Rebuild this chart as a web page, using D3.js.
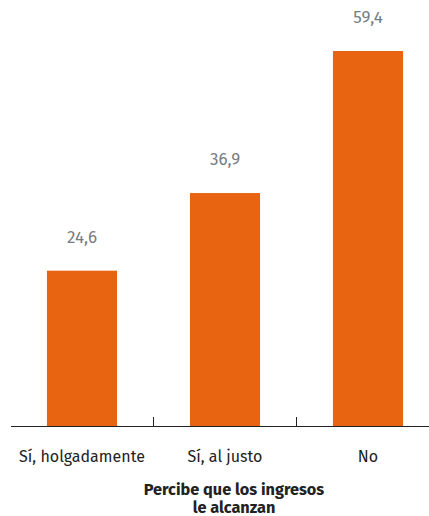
<!DOCTYPE html>
<html><head><meta charset="utf-8">
<script src="https://cdn.jsdelivr.net/npm/d3@7"></script>
<style>body{margin:0;background:#fff}svg{display:block}text{font-family:"Fira Sans","Noto Sans",sans-serif}</style>
</head><body>
<svg id="c" width="429" height="516"></svg>
<script>
const categories = ["Sí, holgadamente", "Sí, al justo", "No"];
const values = [24.6, 36.9, 59.4];
const labels = ["24,6", "36,9", "59,4"];
const titleLines = ["Percibe que los ingresos", "le alcanzan"];

const svg = d3.select("#c");
const base = 426;
const x = d3.scaleBand().domain(categories).range([10.5, 439.5]).paddingInner(0.51).paddingOuter(0.255);
const y = d3.scaleLinear().domain([0, 59.4]).range([base, 51]);

svg.selectAll("rect.bar").data(values).join("rect")
  .attr("class","bar")
  .attr("x",(d,i)=>x(categories[i]))
  .attr("width",x.bandwidth())
  .attr("y",d=>y(d))
  .attr("height",d=>base-y(d))
  .attr("fill","#E86411");

svg.selectAll("text.val").data(values).join("text")
  .attr("class","val")
  .attr("x",(d,i)=>x(categories[i])+x.bandwidth()/2)
  .attr("y",d=>y(d)-28)
  .attr("text-anchor","middle")
  .attr("font-size",17)
  .attr("fill","#777c82")
  .text((d,i)=>labels[i]);

const edges = [10.5, 153.5, 296.5, 439.5];
svg.append("line").attr("x1",11).attr("x2",429).attr("y1",base+0.5).attr("y2",base+0.5).attr("stroke","#222").attr("stroke-width",1);
svg.selectAll("line.tk").data(edges.slice(1,3)).join("line")
  .attr("class","tk").attr("x1",d=>d).attr("x2",d=>d).attr("y1",base-9).attr("y2",base).attr("stroke","#222");

svg.selectAll("text.cat").data(categories).join("text")
  .attr("class","cat")
  .attr("x",d=>x(d)+x.bandwidth()/2)
  .attr("y",462)
  .attr("text-anchor","middle")
  .attr("font-size",16)
  .attr("fill","#222")
  .text(d=>d);

svg.selectAll("text.ttl").data(titleLines).join("text")
  .attr("class","ttl")
  .attr("x",234)
  .attr("y",(d,i)=>495+i*18)
  .attr("text-anchor","middle")
  .attr("font-size",16.3)
  .attr("font-weight","bold")
  .attr("fill","#222")
  .text(d=>d);
</script>
</body></html>
